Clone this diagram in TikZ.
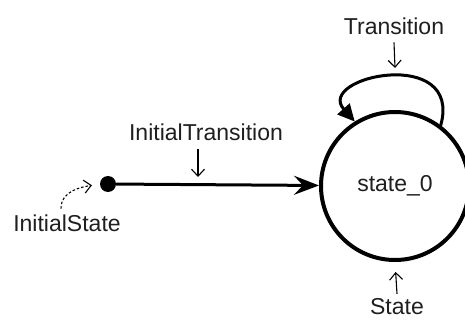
\documentclass[tikz,border=0pt]{standalone}
\usepackage{fontspec}
\setmainfont{Liberation Sans}
\usetikzlibrary{arrows.meta,positioning}
\definecolor{DiagInk}{gray}{0.0}
\definecolor{DiagText}{gray}{0.12}
\tikzset{
    sm/diagram/.style={
        font=\fontsize{23}{27}\selectfont,
        text=DiagText,
        line cap=round,
        line join=round
    },
    sm/state/.style={
        circle, draw=DiagInk, line width=4pt,
        minimum size=148pt, inner sep=0pt
    },
    sm/initial/.style={circle, fill=DiagInk, draw=none, minimum size=16pt, inner sep=0pt},
    sm/transition/.style={
        draw=DiagInk, line width=3pt,
        -{Stealth[length=25pt, width=19pt, inset=9pt]}
    },
    sm/loop/.style={
        draw=DiagInk, line width=3pt,
        -{Triangle[length=17pt, width=16pt]}
    },
    sm/pointer/.style={
        draw=DiagInk, line width=1.1pt, line cap=butt,
        -{Straight Barb[length=7pt, width=13pt]}
    },
    sm/label/.style={inner sep=0pt, outer sep=0pt}
}

\begin{document}
\begin{tikzpicture}[sm/diagram, x=1pt, y=-1pt]
    \useasboundingbox (0,0) rectangle (465,320);
    % states
    \node[sm/initial] (init) at (108,184) {};
    \node[sm/state] (state0) at (395,186) {state\_0};
    % transitions
    \draw[sm/transition] (init) -- (state0);
    \draw[sm/loop] (state0.53) .. controls +(22,-80) and +(-40,-45) .. (state0.122);
    % annotations
    \node[sm/label] (lblInitState) at (67,223) {InitialState};
    \node[sm/label] (lblInitTrans) at (206,132) {InitialTransition};
    \node[sm/label] (lblTrans) at (394,26) {Transition};
    \node[sm/label] (lblState) at (397,307) {State};
    \coordinate (tInitTrans) at (198,177);
    \coordinate (tTrans) at (395,68);
    \draw[sm/pointer, dash pattern=on 2.5pt off 2pt]
        ([xshift=-6pt, yshift=6pt]lblInitState.north) .. controls +(0,-18) and +(-18,3) .. (init.west)
        [shorten >=8pt];
    \draw[sm/pointer] ([xshift=-8pt, yshift=-9pt]lblInitTrans.south) -- (tInitTrans);
    \draw[sm/pointer] ([yshift=-8pt]lblTrans.south) -- (tTrans);
    \draw[sm/pointer, shorten >=10pt] ([yshift=5pt]lblState.north) -- (state0.south);
\end{tikzpicture}
\end{document}
